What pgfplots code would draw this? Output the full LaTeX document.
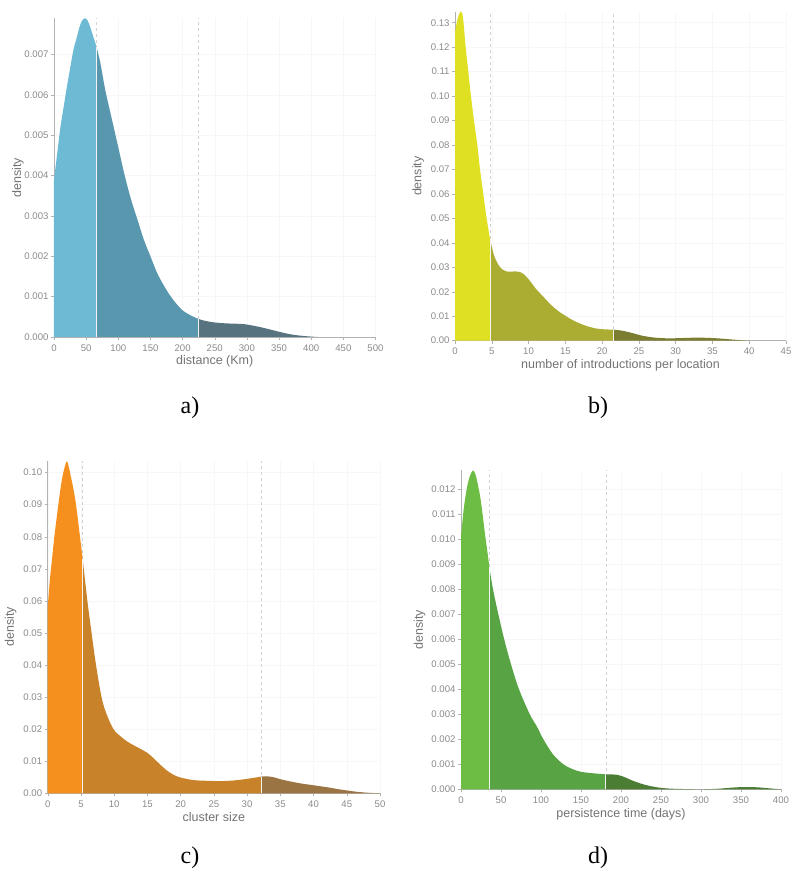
\documentclass[border=0pt]{standalone}
\usepackage{fontspec}
\setmainfont{Liberation Sans}
\newfontfamily\panelfont{Liberation Serif}
\usepackage{pgfplots}
\pgfplotsset{compat=1.18}
\definecolor{a1}{HTML}{6DBAD5}\definecolor{a2}{HTML}{5897AD}\definecolor{a3}{HTML}{577380}
\definecolor{b1}{HTML}{E0E022}\definecolor{b2}{HTML}{ABAD33}\definecolor{b3}{HTML}{7B7D30}
\definecolor{c1}{HTML}{F5901F}\definecolor{c2}{HTML}{C8822A}\definecolor{c3}{HTML}{9A7443}
\definecolor{d1}{HTML}{6DBD45}\definecolor{d2}{HTML}{58A444}\definecolor{d3}{HTML}{4C7D35}
\definecolor{tickgray}{HTML}{8A8A8A}
\pgfplotsset{dens/.style={
  scale only axis, anchor=south west,
  axis x line*=bottom, axis y line*=left,
  axis line style={draw=gray!60, line width=0.5pt},
  tick style={draw=gray!60, line width=0.4pt},
  major tick length=3pt, tick align=outside,
  xmin=0, ymin=0,
  grid=major, major grid style={draw=black!3, line width=0.4pt},
  ticklabel style={font=\fontsize{9.6}{11}\selectfont, text=tickgray},
  label style={font=\fontsize{12.5}{14}\selectfont, text=black!55},
  scaled y ticks=false, scaled x ticks=false,
  /pgf/number format/assume math mode=true,
  ylabel={density},
  ylabel style={at={(axis description cs:-0.083,0.5)}, anchor=south, rotate=0},
  xticklabel style={yshift=-1pt},
  yticklabel style={xshift=1pt},
  every axis plot/.append style={smooth, tension=0.55},
}}
\begin{document}
\begin{tikzpicture}
\path[use as bounding box] (0,0) rectangle (800pt,883pt);
% ---------------- a
\begin{axis}[dens, at={(54pt,546pt)}, width=321.5pt, height=318.7pt,
  xmax=500, ymax=0.0079, xtick={0,50,...,500}, ytick={0,0.001,...,0.0071},
  yticklabel style={/pgf/number format/.cd, fixed, fixed zerofill, precision=3},
  xlabel={distance (Km)}, xlabel style={yshift=3pt}]
\addplot[draw=gray!35, dashed, line width=0.6pt, sharp plot] coordinates {(66,0)(66,0.0079)};
\addplot[draw=gray!35, dashed, line width=0.6pt, sharp plot] coordinates {(224,0)(224,0.0079)};
\addplot[fill=a1, draw=none] coordinates {(0,0.0039)(5,0.00455)(10,0.0052)(15,0.0057)(20,0.0062)(25,0.00665)(30,0.0071)(35,0.0074)(40,0.0077)(44,0.00785)(48,0.0079)(52,0.00785)(56,0.0077)(60,0.0075)(66,0.0072)} \closedcycle;
\addplot[fill=a2, draw=none] coordinates {(66,0.0072)(72,0.0068)(80,0.0061)(90,0.0054)(100,0.0047)(110,0.0040)(120,0.0034)(130,0.0029)(140,0.0024)(150,0.0020)(160,0.0016)(170,0.0013)(180,0.00104)(190,0.00083)(200,0.00066)(212,0.00054)(224,0.00045)} \closedcycle;
\addplot[fill=a3, draw=none] coordinates {(224,0.00045)(235,0.0004)(250,0.00036)(265,0.00034)(280,0.00033)(295,0.00032)(310,0.00028)(325,0.00023)(340,0.00017)(355,0.00011)(370,0.00006)(385,0.00003)(400,0.00001)(410,0)} \closedcycle;
\addplot[draw=white!90!gray, line width=1pt, sharp plot] coordinates {(66,0)(66,0.0072)};
\addplot[draw=white!90!gray, line width=1pt, sharp plot] coordinates {(224,0)(224,0.00045)};
\end{axis}
% ---------------- b
\begin{axis}[dens, at={(455pt,542.3pt)}, width=331pt, height=329pt,
  xmax=45, ymax=0.1345, xtick={0,5,...,45}, ytick={0,0.01,...,0.131},
  yticklabel style={/pgf/number format/.cd, fixed, fixed zerofill, precision=2},
  xlabel={number of introductions per location}, xlabel style={yshift=2pt}]
\addplot[draw=gray!35, dashed, line width=0.6pt, sharp plot] coordinates {(4.8,0)(4.8,0.1345)};
\addplot[draw=gray!35, dashed, line width=0.6pt, sharp plot] coordinates {(21.5,0)(21.5,0.1345)};
\addplot[fill=b1, draw=none] coordinates {(0,0.126)(0.3,0.131)(0.6,0.1338)(0.85,0.1345)(1.1,0.1318)(1.45,0.12)(1.81,0.11)(2.17,0.10)(2.58,0.09)(3.04,0.08)(3.4,0.07)(3.85,0.06)(4.3,0.05)(4.8,0.041)} \closedcycle;
\addplot[fill=b2, draw=none] coordinates {(4.8,0.041)(5.3,0.035)(5.9,0.031)(6.5,0.0290)(7.2,0.0282)(8,0.0283)(8.8,0.0281)(9.5,0.0268)(10.3,0.024)(11,0.0212)(12,0.0180)(13,0.0148)(14,0.0122)(15,0.0102)(16,0.0084)(17,0.0070)(18,0.0059)(19,0.0051)(20,0.0047)(21.5,0.0045)} \closedcycle;
\addplot[fill=b3, draw=none] coordinates {(21.5,0.0045)(22.5,0.0042)(23.5,0.0036)(24.5,0.0028)(25.5,0.0020)(27,0.0013)(28.5,0.0010)(30,0.0010)(32,0.0012)(34,0.0012)(36,0.0009)(38,0.0004)(40,0)} \closedcycle;
\addplot[draw=white!90!gray, line width=1pt, sharp plot] coordinates {(4.8,0)(4.8,0.041)};
\addplot[draw=white!90!gray, line width=1pt, sharp plot] coordinates {(21.5,0)(21.5,0.0045)};
\end{axis}
% ---------------- c
\begin{axis}[dens, at={(47.7pt,89.7pt)}, width=332.3pt, height=332.6pt,
  xmax=50, ymax=0.1037, xtick={0,5,...,50}, ytick={0,0.01,...,0.101},
  yticklabel style={/pgf/number format/.cd, fixed, fixed zerofill, precision=2},
  xlabel={cluster size}, xlabel style={yshift=2pt}]
\addplot[draw=gray!35, dashed, line width=0.6pt, sharp plot] coordinates {(5.27,0)(5.27,0.1037)};
\addplot[draw=gray!35, dashed, line width=0.6pt, sharp plot] coordinates {(32.1,0)(32.1,0.1037)};
\addplot[fill=c1, draw=none] coordinates {(0,0.058)(0.3,0.066)(0.6,0.072)(1.0,0.08)(1.6,0.09)(2.0,0.096)(2.35,0.100)(2.86,0.1035)(3.2,0.1015)(3.46,0.099)(3.86,0.095)(4.26,0.09)(4.86,0.08)(5.27,0.073)} \closedcycle;
\addplot[fill=c2, draw=none] coordinates {(5.27,0.073)(5.97,0.06)(6.6,0.05)(7.27,0.04)(8.1,0.03)(8.8,0.025)(9.9,0.02)(11,0.0177)(12,0.0161)(13,0.0149)(14,0.0138)(15,0.0126)(16,0.0108)(17,0.0088)(18,0.0070)(19,0.0057)(20,0.0049)(22,0.0041)(24,0.0039)(26,0.0038)(28,0.0040)(30,0.0045)(32.1,0.0052)} \closedcycle;
\addplot[fill=c3, draw=none] coordinates {(32.1,0.0052)(33,0.0053)(34,0.0050)(35,0.0044)(36.5,0.0037)(38,0.0031)(40,0.0025)(42,0.0019)(44,0.0012)(46,0.0006)(48,0.0002)(50,0)} \closedcycle;
\addplot[draw=white!90!gray, line width=1pt, sharp plot] coordinates {(5.27,0)(5.27,0.073)};
\addplot[draw=white!90!gray, line width=1pt, sharp plot] coordinates {(32.1,0)(32.1,0.0052)};
\end{axis}
% ---------------- d
\begin{axis}[dens, at={(461pt,93.7pt)}, width=320pt, height=319.3pt,
  xmax=400, ymax=0.01277, xtick={0,50,...,400}, ytick={0,0.001,...,0.0121},
  yticklabel style={/pgf/number format/.cd, fixed, fixed zerofill, precision=3},
  ylabel style={at={(axis description cs:-0.1,0.5)}},
  xlabel={persistence time (days)}, xlabel style={yshift=2pt}]
\addplot[draw=gray!35, dashed, line width=0.6pt, sharp plot] coordinates {(35.4,0)(35.4,0.01277)};
\addplot[draw=gray!35, dashed, line width=0.6pt, sharp plot] coordinates {(181,0)(181,0.01277)};
\addplot[fill=d1, draw=none] coordinates {(0,0.0101)(3,0.0111)(6,0.0118)(9,0.0123)(12,0.0126)(15,0.01275)(18,0.0126)(21,0.0122)(24,0.0117)(27,0.0110)(30,0.0102)(33,0.0095)(35.4,0.0089)} \closedcycle;
\addplot[fill=d2, draw=none] coordinates {(35.4,0.0089)(40,0.0080)(46.7,0.0070)(54,0.0060)(62.5,0.0050)(72.5,0.0040)(86,0.0030)(95,0.0025)(103,0.0020)(115,0.0014)(128,0.0010)(140,0.0008)(150,0.0007)(165,0.00064)(181,0.0006)} \closedcycle;
\addplot[fill=d3, draw=none] coordinates {(181,0.0006)(195,0.00058)(205,0.00048)(215,0.00034)(230,0.00018)(245,0.00008)(260,0.00003)(280,0.00001)(300,0)(320,0.00002)(340,0.00007)(355,0.00009)(370,0.00008)(385,0.00004)(400,0)} \closedcycle;
\addplot[draw=white!90!gray, line width=1pt, sharp plot] coordinates {(35.4,0)(35.4,0.0089)};
\addplot[draw=white!90!gray, line width=1pt, sharp plot] coordinates {(181,0)(181,0.0006)};
\end{axis}
% panel labels
\node[font=\panelfont\fontsize{24}{28}\selectfont] at (190pt,475pt) {a)};
\node[font=\panelfont\fontsize{24}{28}\selectfont] at (598pt,475pt) {b)};
\node[font=\panelfont\fontsize{24}{28}\selectfont] at (190pt,25pt) {c)};
\node[font=\panelfont\fontsize{24}{28}\selectfont] at (598pt,25pt) {d)};
\end{tikzpicture}
\end{document}
